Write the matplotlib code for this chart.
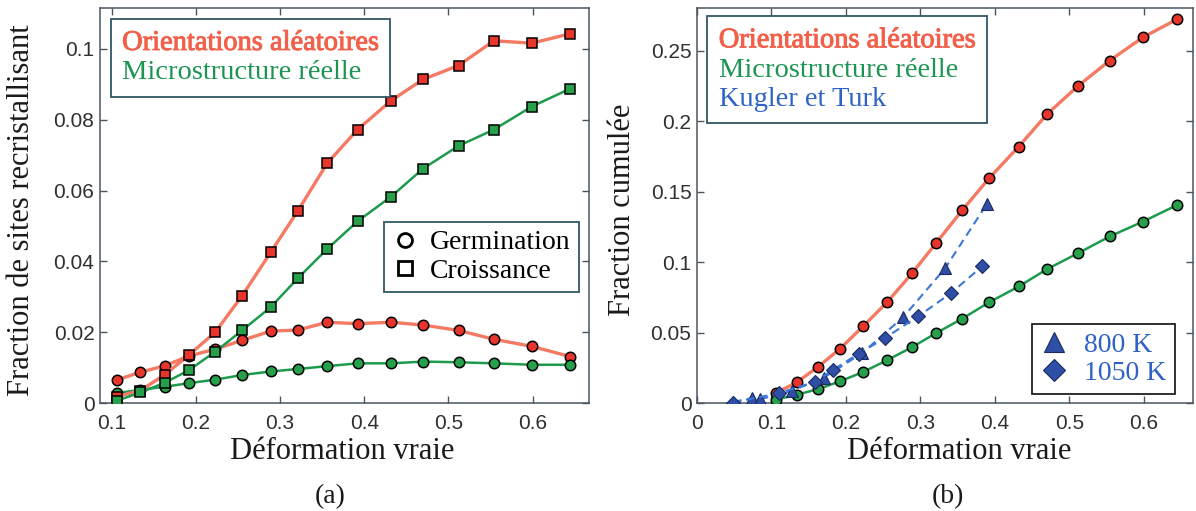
import matplotlib
matplotlib.use("Agg")
import matplotlib.pyplot as plt
from matplotlib.lines import Line2D
import matplotlib.patheffects as pe

# ---------------- data ----------------
strain = [0.106, 0.134, 0.163, 0.192, 0.223, 0.255, 0.289, 0.321,
          0.356, 0.392, 0.432, 0.470, 0.512, 0.554, 0.599, 0.645]

# (a) fraction of recrystallising sites
germ_random = [0.0065, 0.0087, 0.0105, 0.0133, 0.0152, 0.0177, 0.0203, 0.0206,
               0.0228, 0.0224, 0.0228, 0.0220, 0.0205, 0.0180, 0.0160, 0.0131]
germ_real = [0.0028, 0.0037, 0.0046, 0.0056, 0.0066, 0.0079, 0.0089, 0.0096,
             0.0104, 0.0112, 0.0112, 0.0117, 0.0115, 0.0112, 0.0108, 0.0108]
growth_random = [0.0018, 0.0035, 0.0080, 0.0136, 0.0200, 0.0303, 0.0426, 0.0542,
                 0.0677, 0.0772, 0.0854, 0.0914, 0.0953, 0.1023, 0.1016, 0.1043]
growth_real = [0.0006, 0.0030, 0.0057, 0.0093, 0.0145, 0.0205, 0.0271, 0.0352,
               0.0435, 0.0513, 0.0583, 0.0662, 0.0726, 0.0772, 0.0837, 0.0888]

# (b) cumulated fraction
cum_random = [0.0071, 0.0147, 0.0258, 0.0385, 0.0544, 0.0714, 0.0922, 0.1135,
              0.1367, 0.1594, 0.1820, 0.2050, 0.2252, 0.2430, 0.2596, 0.2725]
cum_real = [0.0024, 0.0059, 0.0099, 0.0154, 0.0220, 0.0303, 0.0397, 0.0496,
            0.0598, 0.0714, 0.0827, 0.0950, 0.1064, 0.1182, 0.1288, 0.1406]

kt800_x = [0.049, 0.074, 0.085, 0.127, 0.170, 0.222, 0.277, 0.333, 0.389]
kt800_y = [0.0008, 0.0035, 0.0027, 0.0085, 0.0180, 0.0355, 0.0610, 0.0955, 0.1410]
kt1050_x = [0.048, 0.110, 0.158, 0.183, 0.217, 0.252, 0.297, 0.341, 0.383]
kt1050_y = [0.0003, 0.0070, 0.0150, 0.0236, 0.0350, 0.0460, 0.0615, 0.0780, 0.0970]

xticks_a = [0.1, 0.2, 0.3, 0.4, 0.5, 0.6]
yticks_a = [0, 0.02, 0.04, 0.06, 0.08, 0.1]
yticklabels_a = ["0", "0.02", "0.04", "0.06", "0.08", "0.1"]
xticks_b = [0, 0.1, 0.2, 0.3, 0.4, 0.5, 0.6]
xticklabels_b = ["0", "0.1", "0.2", "0.3", "0.4", "0.5", "0.6"]
yticks_b = [0, 0.05, 0.1, 0.15, 0.2, 0.25]
yticklabels_b = ["0", "0.05", "0.1", "0.15", "0.2", "0.25"]

# ---------------- style ----------------
RED_LINE = "#f47a64"
RED_FACE = "#e8352b"
GREEN_LINE = "#1d9a4c"
GREEN_FACE = "#26a04a"
BLUE_LINE = "#3d78d6"
BLUE_FACE = "#2f4fa6"
RED_TXT = "#f2604a"
GREEN_TXT = "#1c9452"
BLUE_TXT = "#2e62c6"
BOX = "#2f5866"
SPINE = "#4a5560"
SERIF = ["Liberation Serif", "DejaVu Serif"]
SANS = ["Liberation Sans", "DejaVu Sans"]

W, H = 1196, 511
fig = plt.figure(figsize=(W / 100, H / 100), dpi=100)


def px_axes(x0, x1, y0, y1):
    return fig.add_axes([x0 / W, 1 - y1 / H, (x1 - x0) / W, (y1 - y0) / H])


axA = px_axes(100, 589, 8.5, 403)
axB = px_axes(697, 1193, 8.5, 403)


def style_axes(ax):
    for s in ax.spines.values():
        s.set_color(SPINE)
        s.set_linewidth(1.1)
    ax.tick_params(direction="in", length=5, width=1.0, color=SPINE,
                   top=True, right=True, labelsize=15, labelcolor="#303030")
    ax.tick_params(axis="x", pad=8)
    ax.tick_params(axis="y", pad=4)
    for lab in ax.get_xticklabels() + ax.get_yticklabels():
        lab.set_family(SANS)


ms = 7.5
# ----- (a) -----
axA.plot(strain, germ_random, color=RED_LINE, lw=2.4, marker="o", ms=ms,
         mfc=RED_FACE, mec="black", mew=1.1, zorder=3)
axA.plot(strain, germ_real, color=GREEN_LINE, lw=1.8, marker="o", ms=ms,
         mfc=GREEN_FACE, mec="black", mew=1.1, zorder=3)
axA.plot(strain, growth_random, color=RED_LINE, lw=2.4, marker="s", ms=ms,
         mfc=RED_FACE, mec="black", mew=1.1, zorder=4)
axA.plot(strain, growth_real, color=GREEN_LINE, lw=1.8, marker="s", ms=ms,
         mfc=GREEN_FACE, mec="black", mew=1.1, zorder=4)
axA.set_xlim(0.0861, 0.667)
axA.set_ylim(0, 0.1114)
axA.set_xticks(xticks_a)
axA.set_xticklabels([str(v) for v in xticks_a])
axA.set_yticks(yticks_a)
axA.set_yticklabels(yticklabels_a)
style_axes(axA)

# ----- (b) -----
axB.plot(strain, cum_random, color=RED_LINE, lw=2.4, marker="o", ms=ms,
         mfc=RED_FACE, mec="black", mew=1.1, zorder=3)
axB.plot(strain, cum_real, color=GREEN_LINE, lw=1.8, marker="o", ms=ms,
         mfc=GREEN_FACE, mec="black", mew=1.1, zorder=3)
axB.plot(kt800_x, kt800_y, color=BLUE_LINE, lw=1.5, ls=(0, (4, 2.5)), marker="^",
         ms=8.5, mfc=BLUE_FACE, mec="#1a2a60", mew=0.8, zorder=4)
axB.plot(kt1050_x, kt1050_y, color=BLUE_LINE, lw=1.5, ls=(0, (4, 2.5)), marker="D",
         ms=7, mfc=BLUE_FACE, mec="#1a2a60", mew=0.8, zorder=4)
axB.set_xlim(0, 0.666)
axB.set_ylim(0, 0.28)
axB.set_xticks(xticks_b)
axB.set_xticklabels(xticklabels_b)
axB.set_yticks(yticks_b)
axB.set_yticklabels(yticklabels_b)
style_axes(axB)


# ----- legends -----
def text_legend(ax, labels, colors, anchor):
    handles = [Line2D([], [], linestyle="none") for _ in labels]
    leg = ax.legend(handles, labels, loc="upper left", bbox_to_anchor=anchor,
                    borderaxespad=0, handlelength=0, handletextpad=0,
                    fancybox=False, framealpha=1, edgecolor=BOX,
                    prop={"family": SERIF, "size": 20.5},
                    borderpad=0.4, labelspacing=0.12)
    leg.get_frame().set_linewidth(1.3)
    for t, c in zip(leg.get_texts(), colors):
        t.set_color(c)
        if c == RED_TXT:
            t.set_path_effects([pe.withStroke(linewidth=0.7, foreground=c)])
    return leg


legA1 = text_legend(axA, ["Orientations aléatoires", "Microstructure réelle"],
                    [RED_TXT, GREEN_TXT], (10.7 / 489, (403 - 18.6) / 394.5))
axA.add_artist(legA1)
hA2 = [Line2D([], [], ls="none", marker="o", ms=10, mfc="white", mec="black", mew=2),
       Line2D([], [], ls="none", marker="s", ms=10, mfc="white", mec="black", mew=2)]
legA2 = axA.legend(hA2, ["Germination", "Croissance"], loc="upper left",
                   bbox_to_anchor=((384 - 100) / 489, (403 - 221.7) / 394.5),
                   borderaxespad=0, handlelength=0.9, handletextpad=0.45,
                   fancybox=False, framealpha=1, edgecolor=BOX,
                   prop={"family": SERIF, "size": 20},
                   borderpad=0.3, labelspacing=0.1)
legA2.get_frame().set_linewidth(1.3)

legB1 = text_legend(axB, ["Orientations aléatoires", "Microstructure réelle", "Kugler et Turk"],
                    [RED_TXT, GREEN_TXT, BLUE_TXT], (10.4 / 496, (403 - 16) / 394.5))
axB.add_artist(legB1)
hB2 = [Line2D([], [], ls="none", marker="^", ms=14, mfc=BLUE_FACE, mec="#1a2a60", mew=0.8),
       Line2D([], [], ls="none", marker="D", ms=11, mfc=BLUE_FACE, mec="#1a2a60", mew=0.8)]
legB2 = axB.legend(hB2, ["800 K", "1050 K"], loc="upper left",
                   bbox_to_anchor=((1031.7 - 697) / 496, (403 - 324) / 394.5),
                   borderaxespad=0, handlelength=1.0, handletextpad=0.6,
                   fancybox=False, framealpha=1, edgecolor="#202020",
                   prop={"family": SERIF, "size": 20},
                   borderpad=0.3, labelspacing=0.1)
legB2.get_frame().set_linewidth(1.3)
for t in legB2.get_texts():
    t.set_color(BLUE_TXT)

# ----- labels -----
def ftext(x, y, s, **kw):
    fig.text(x / W, 1 - y / H, s, ha="center", va="center",
             family=SERIF, color="#1a1a1a", **kw)


ftext(341.7, 451.7, "Déformation vraie", size=22)
ftext(959, 451.7, "Déformation vraie", size=22)
ftext(22, 210, "Fraction de sites recristallisant", size=22, rotation=90)
ftext(622, 210, "Fraction cumulée", size=22, rotation=90)
ftext(330, 496.7, "(a)", size=20)
ftext(948, 496.7, "(b)", size=20)

fig.savefig("out.png", dpi=100)
